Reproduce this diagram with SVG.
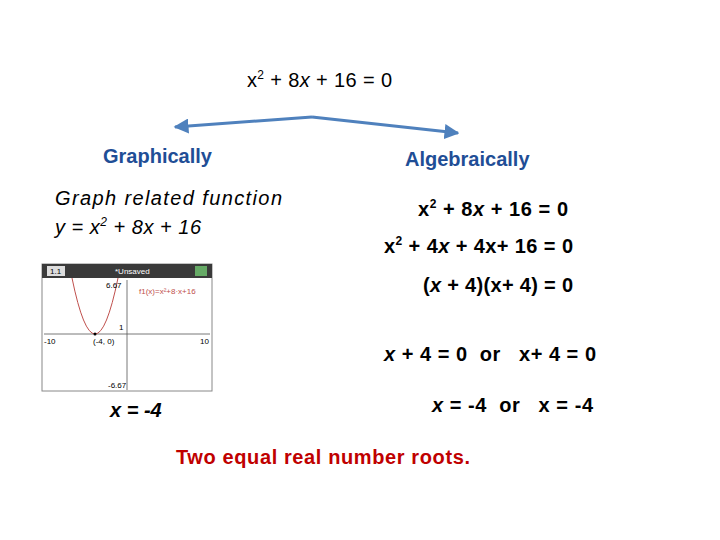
<svg xmlns="http://www.w3.org/2000/svg" width="720" height="540" viewBox="0 0 720 540">
<defs>
<marker id="ah" viewBox="0 0 10 10" refX="9" refY="5" markerWidth="5" markerHeight="5" orient="auto-start-reverse"><path d="M0,0L10,5L0,10z" fill="#4f81bd"/></marker>
<style>
text{font-family:"Liberation Sans",Arial,sans-serif;font-size:20px;fill:#000;white-space:pre}
.b{font-weight:bold}
.h{fill:#1f4e96;font-weight:bold}
.s{font-size:12px}
.t{font-family:"Liberation Sans",sans-serif;font-size:8px}
</style>
</defs>
<g id="title"><text x="247" y="87" textLength="145">x<tspan class="s" dy="-8">2</tspan><tspan dy="8"> + 8</tspan><tspan font-style="italic">x</tspan> + 16 = 0</text></g>
<g id="connectors">
<path d="M312,117 L175,127" stroke="#4f81bd" stroke-width="3" fill="none" marker-end="url(#ah)"/>
<path d="M312,117 L458,133" stroke="#4f81bd" stroke-width="3" fill="none" marker-end="url(#ah)"/>
</g>
<g id="graphically"><text class="h" x="103" y="163">Graphically</text></g>
<g id="algebraically"><text class="h" x="405" y="166">Algebraically</text></g>
<g id="graph-text">
<text x="55" y="205" font-style="italic" textLength="227">Graph related function</text>
<text x="55" y="234" font-style="italic" textLength="146">y = x<tspan class="s" dy="-8">2</tspan><tspan dy="8"> + 8</tspan>x + 16</text>
</g>
<g id="screenshot">
<rect x="42" y="264" width="170" height="127" fill="#fff" stroke="#888" stroke-width="1"/>
<rect x="42" y="264" width="170" height="14" fill="#3a3a3a"/>
<rect x="47" y="266" width="18" height="10" fill="#ddd"/>
<text class="t" x="50" y="274">1.1</text>
<text class="t" x="115" y="274" style="fill:#fff">*Unsaved</text>
<rect x="195" y="266" width="12" height="10" fill="#6a6"/>
<line x1="44" y1="334" x2="210" y2="334" stroke="#555" stroke-width="0.8"/>
<line x1="127" y1="280" x2="127" y2="390" stroke="#555" stroke-width="0.8"/>
<path d="M72,278 Q95,390 118,278" fill="none" stroke="#c0504d" stroke-width="1"/>
<circle cx="95" cy="334" r="1.5" fill="#000"/>
<text class="t" x="139" y="294" style="fill:#c0504d">f1(x)=x²+8·x+16</text>
<text class="t" x="106" y="288">6.67</text>
<text class="t" x="108" y="388">-6.67</text>
<text class="t" x="44" y="344">-10</text>
<text class="t" x="200" y="344">10</text>
<text class="t" x="93" y="344">(-4, 0)</text>
<text class="t" x="119" y="330">1</text>
</g>
<g id="x-result"><text class="b" x="110" y="417" font-style="italic">x = -4</text></g>
<g id="steps">
<text class="b" x="418" y="216" textLength="150">x<tspan class="s" dy="-8">2</tspan><tspan dy="8"> + 8</tspan><tspan font-style="italic">x</tspan> + 16 = 0</text>
<text class="b" x="384" y="253" textLength="189">x<tspan class="s" dy="-8">2</tspan><tspan dy="8"> + 4</tspan><tspan font-style="italic">x</tspan> + 4x+ 16 = 0</text>
<text class="b" x="423" y="292" textLength="150">(<tspan font-style="italic">x</tspan> + 4)(x+ 4) = 0</text>
<text class="b" x="384" y="361" textLength="212"><tspan font-style="italic">x</tspan> + 4 = 0  or   x+ 4 = 0</text>
<text class="b" x="432" y="412" textLength="161"><tspan font-style="italic">x</tspan> = -4  or   x = -4</text>
</g>
<g id="conclusion"><text class="b" x="176" y="464" style="fill:#c00000" textLength="294">Two equal real number roots.</text></g>
</svg>
